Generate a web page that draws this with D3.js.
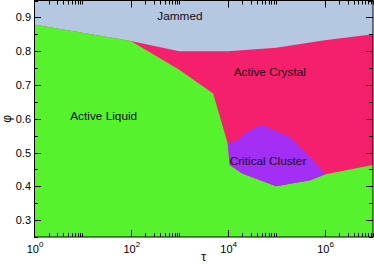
<!DOCTYPE html>
<html>
<head>
<meta charset="utf-8">
<title>Phase diagram</title>
<script src="https://cdn.jsdelivr.net/npm/d3@7"></script>
<style>
  body { margin: 0; background: #fff; }
  svg text { font-family: "Liberation Sans", Arial, Helvetica, sans-serif; fill: #000; }
  .tick-label { font-size: 11px; }
  .region-label { font-size: 11.8px; text-anchor: middle; fill: #1a0a14; }
  .frame { fill: none; stroke: #000; stroke-width: 1; }
  .tk { stroke: #000; stroke-width: 1; }
</style>
</head>
<body>
<svg width="374" height="264"></svg>
<script>
// phase boundaries, [tau, phi]
var jammedEdge = [[1, 0.879], [100, 0.83], [1e3, 0.80], [1e4, 0.80], [1e5, 0.81], [1e6, 0.832], [1e7, 0.85]];
var liquidEdge = [[100, 0.83], [1e3, 0.745], [5e3, 0.675], [1e4, 0.527]];
var clusterTop = [[1e4, 0.527], [1.6e4, 0.537], [2.3e4, 0.557], [3.5e4, 0.572], [5e4, 0.582],
                  [1.9e5, 0.546], [5e5, 0.487], [1.05e6, 0.436]];
var clusterBottom = [[1.05e6, 0.436], [5e5, 0.418], [1e5, 0.40], [2e4, 0.438], [1.1e4, 0.463], [1e4, 0.527]];
var liquidRight = [[1.05e6, 0.436], [1e7, 0.463]];

var xMajor = [1, 1e2, 1e4, 1e6];
var xExp = ["0", "2", "4", "6"];
var yMajor = [0.3, 0.4, 0.5, 0.6, 0.7, 0.8, 0.9];
var yMinor = [0.25, 0.35, 0.45, 0.55, 0.65, 0.75, 0.85, 0.95];

var labels = [
  {text: "Jammed", tau: 1.03e3, phi: 0.891},
  {text: "Active Crystal", tau: 7.4e4, phi: 0.727},
  {text: "Active Liquid", tau: 27.5, phi: 0.597},
  {text: "Critical Cluster", tau: 6.8e4, phi: 0.464}
];

var colors = {jammed: "#b4c9e1", crystal: "#f5206b", liquid: "#56f22e", cluster: "#a32ef4"};

var svg = d3.select("svg");
var mLeft = 34, mRight = 373, mTop = 0.5, mBottom = 237;

var x = d3.scaleLog().domain([1, 1e7]).range([mLeft, mRight]);
var y = d3.scaleLinear().domain([0.25, 0.95]).range([mBottom, mTop]);

var line = d3.line()
    .x(function(d) { return x(d[0]); })
    .y(function(d) { return y(d[1]); });

var xd = x.domain(), yd = y.domain();

// jammed background
svg.append("path")
    .attr("fill", colors.jammed)
    .attr("d", line([[xd[0], yd[0]], [xd[0], yd[1]], [xd[1], yd[1]], [xd[1], yd[0]]]) + "Z");

// crystal: everything under the jammed edge
svg.append("path")
    .attr("fill", colors.crystal)
    .attr("d", line(jammedEdge.concat([[xd[1], yd[0]], [xd[0], yd[0]]])) + "Z");

// liquid
var liq = [jammedEdge[0]].concat(liquidEdge, clusterBottom.slice().reverse().slice(1), liquidRight,
    [[xd[1], yd[0]], [xd[0], yd[0]]]);
svg.append("path")
    .attr("fill", colors.liquid)
    .attr("d", line(liq) + "Z");

// critical cluster
svg.append("path")
    .attr("fill", colors.cluster)
    .attr("d", line(clusterTop.concat(clusterBottom.slice(1))) + "Z");

// region labels
svg.selectAll(".region-label")
  .data(labels)
  .enter().append("text")
    .attr("class", "region-label")
    .attr("x", function(d) { return x(d.tau); })
    .attr("y", function(d) { return y(d.phi); })
    .text(function(d) { return d.text; });

// ticks, all pointing inward
var xMinor = [];
xMajor.forEach(function(m) {
  for (var k = 2; k <= 10; k++) if (m * k <= xd[1]) xMinor.push(m * k);
});

var g = svg.append("g");
function tick(x1, y1, x2, y2) {
  g.append("line").attr("class", "tk")
    .attr("x1", x1).attr("y1", y1).attr("x2", x2).attr("y2", y2);
}
xMajor.forEach(function(v) {
  var px = Math.round(x(v)) + 0.5;
  tick(px, mBottom, px, mBottom - 7);
  tick(px, mTop, px, mTop + 7);
});
xMinor.forEach(function(v) {
  var px = Math.round(x(v)) + 0.5;
  tick(px, mBottom, px, mBottom - 4);
  tick(px, mTop, px, mTop + 4);
});
yMajor.forEach(function(v) {
  var py = Math.round(y(v)) + 0.5;
  tick(mLeft, py, mLeft + 7, py);
  tick(mRight, py, mRight - 7, py);
});
yMinor.forEach(function(v) {
  var py = Math.round(y(v)) + 0.5;
  tick(mLeft, py, mLeft + 4, py);
  tick(mRight, py, mRight - 4, py);
});

svg.append("rect").attr("class", "frame")
    .attr("x", mLeft + 0.5).attr("y", mTop)
    .attr("width", mRight - mLeft - 0.5).attr("height", mBottom - mTop);

// tick labels
svg.selectAll(".ylab")
  .data(yMajor)
  .enter().append("text")
    .attr("class", "tick-label")
    .attr("text-anchor", "end")
    .attr("x", mLeft - 3)
    .attr("y", function(d) { return y(d) + 4; })
    .text(function(d) { return d.toFixed(1); });

var xl = svg.selectAll(".xlab")
  .data(xMajor)
  .enter().append("text")
    .attr("class", "tick-label")
    .attr("text-anchor", "middle")
    .attr("x", function(d) { return x(d) + 1; })
    .attr("y", 253);
xl.append("tspan").text("10");
xl.append("tspan")
    .attr("dy", -6)
    .style("font-size", "8px")
    .text(function(d, i) { return xExp[i]; });

// axis titles
svg.append("text")
    .attr("transform", "translate(11," + y(0.6) + ") rotate(-90)")
    .attr("text-anchor", "middle")
    .style("font-size", "12px")
    .text("φ");
svg.append("text")
    .attr("x", (mLeft + mRight) / 2)
    .attr("y", 261)
    .attr("text-anchor", "middle")
    .style("font-size", "12px")
    .text("τ");
</script>
</body>
</html>
